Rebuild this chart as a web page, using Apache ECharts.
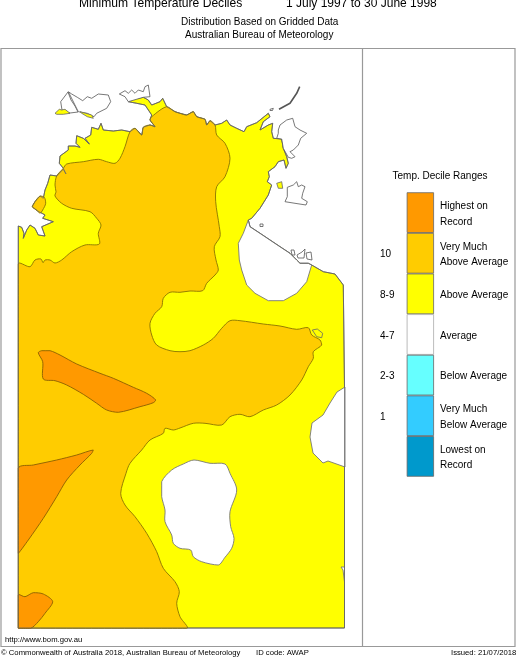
<!DOCTYPE html>
<html>
<head>
<meta charset="utf-8">
<style>html,body{margin:0;padding:0;background:#fff}#chart{width:516px;height:658px}</style>
<script src="https://cdn.jsdelivr.net/npm/echarts@6/dist/echarts.min.js"></script>
</head>
<body>
<div id="chart"></div>
<script>
// map outlines, in map units
var landOutline = [[18.3,226],[21.7,227.3],[24,233.3],[23.3,238.3],[26.7,230],[30,225],[35,228.3],[38.3,235],[45,236],[41.7,226.7],[53.3,221.7],[42.7,218.3],[45,215],[37.3,210.7],[32.3,206.7],[35,201.7],[40,196],[43.3,198.3],[45,190],[47.7,183.3],[50,175],[56.7,176],[63.3,169.3],[66,174],[63.3,168.3],[59.3,163.3],[60,156],[68.3,150],[68.3,146],[75,146],[80,147.3],[76,143.3],[76.7,135.7],[83.3,138.3],[89.3,144],[85,138.3],[90.7,135],[91.7,127.3],[98.3,129.3],[101,123.3],[103.3,130],[113.3,131],[121.7,130],[130,131.7],[135,128.3],[141.7,135],[143.3,127.3],[150,125],[155,126.7],[150,120],[151.7,115],[145,105],[136.7,103.3],[128.3,101.7],[133,99],[143.3,97.3],[148.3,100],[151.7,105],[160,101.7],[162.7,98.3],[166.7,106.7],[175,111.7],[180,113.3],[186.7,115],[193.3,111.7],[196.7,116.7],[205,119.3],[206.7,125],[210,120.7],[215,125],[221.7,123.3],[226.7,120],[230,125],[236.7,128.3],[244,131.7],[246.7,126.7],[256.7,122.7],[268.3,113.3],[270,116.7],[263.3,121.7],[260,130],[268.3,125],[272.7,123.3],[271.7,131.7],[273.3,138.3],[281.7,139],[283.3,148.3],[286.7,156.7],[288.3,163.3],[286,168.3],[284,160],[278.3,161.7],[275,166.7],[268.3,171.7],[269.3,176.7],[267.3,181.7],[271.7,185],[268.3,195],[260,208.3],[251.7,218.3],[248.3,220],[250,226.7],[260,233.3],[270,240],[280,246.7],[290,253.3],[296.7,260],[300,263.3],[308.3,263.3],[311.7,265],[323.3,271.7],[335,274],[343.3,285],[344.5,387],[344.5,628],[18.3,628]];

var aboveAvgIslands = [
    [[55,113.3],[59.3,109.3],[61.7,110],[65,109.3],[70,113.3],[63.3,114.3],[56.7,114.3]],
    [[80,111.7],[91.7,115],[93.3,118.3],[87.3,116.7],[81.7,113.3]],
    [[276.7,183.3],[281.7,181.7],[282.7,188.3],[278.3,188.3]],
    [[312.3,330],[317.3,329],[322.7,333.3],[321.7,337.7],[316.7,336.7]]
];

var veryMuchAboveMain = [[18.3,628],[18.3,264],[30,266.7],[35,260],[41,259],[43,262.7],[45,260],[50,260],[55,263],[61.7,260],[71.7,251.7],[85,245],[99.3,244],[98.3,233.3],[101,225],[96.7,218.3],[90,211.7],[71.7,208.3],[61.7,203.3],[55,196],[56,191.7],[55,185],[56.7,176],[63.3,168.3],[66.7,164],[83.3,161.7],[98.3,159.3],[106.7,161.7],[115,163.3],[120,158.3],[125,146.7],[130,131.7],[135,128.3],[141.7,135],[143.3,127.3],[150,125],[155,126.7],[150,120],[151.7,116.7],[166.7,106.7],[175,111.7],[180,113.3],[186.7,115],[193.3,111.7],[196.7,116.7],[205,119.3],[206.7,125],[210,120.7],[215,125],[216.7,135],[225,143.3],[230,158.3],[225,176.7],[216.7,186.7],[215.7,201.7],[219.3,226.7],[220,236.7],[214.3,246.7],[216,260],[218.3,270],[215,275],[206.7,283.3],[202.7,290.7],[190,291],[180,292.3],[170,292.3],[163.3,298.3],[161.7,306.7],[155,313.3],[150,323.3],[151.7,335],[156.7,345],[170,350.7],[180,351.7],[190,350.7],[203.3,345],[213.3,338.3],[221.7,328.3],[230,320.7],[240,320.7],[263.3,324],[280,326],[296.7,329.3],[308.3,327.7],[311.7,335],[320,340],[321.7,345],[313.3,351.7],[313.3,358.3],[308.3,366.7],[301.7,380],[290,395],[276.7,405],[263.3,410],[250,416.7],[240,414.3],[230,416.7],[221.7,425],[205,423.3],[193.3,423.3],[180,428],[173.3,430],[165,428.3],[163.3,433.3],[150,440],[141.7,450],[130,463.3],[126,473.3],[120.7,493.3],[125,505],[135,516.7],[146.7,533.3],[156.7,551.7],[163.3,568.3],[175,581.7],[179.3,591.7],[176.7,603.3],[180,616.7],[186.7,628.3]];
var veryMuchAboveCoast = [[32.3,206.7],[35,201.7],[40,196],[44.3,197.3],[45.7,203.3],[42.7,210],[40,213.3],[37.3,210.7]];

var highestPatches = [
    [[38.3,352.7],[41.7,350.7],[50,350.7],[60,355],[76.7,364],[100,373.3],[113.3,378.3],[133.3,387.3],[146.7,393.3],[155.7,400],[153.3,402.7],[140,406.7],[118.3,412.3],[106.7,410],[96.7,403.3],[83.3,394.3],[66.7,385],[55,380.7],[43.3,379],[42.7,361.7]],
    [[18.3,468.3],[33.3,465],[56.7,460],[76.7,455],[93.3,450],[91.7,453.3],[80,465],[66.7,480],[56.7,496.7],[43.3,518.3],[28.3,540],[18.3,553.3]],
    [[18.3,595],[25,596.7],[33.3,592.7],[43.3,594],[52.7,601.7],[45,613.3],[38.3,621.7],[30.7,628.3],[18.3,628.3]]
];

var averagePatches = [
    [[194,460],[210,463.3],[225,464],[230,473.3],[236.7,490],[230,511.7],[230.7,526.7],[234,538.3],[231.7,548.3],[225,557.3],[218.3,565],[201.7,561.7],[193.3,556.7],[190.7,550],[180,548.3],[173.3,543.3],[171.7,535],[165,521.7],[165,510],[161.7,496.7],[161.7,481.7],[171.7,470],[183.3,464]],
    [[248.3,220],[243.3,233.3],[238.3,243.3],[239.3,260],[241.7,270],[246.7,285],[255,293.3],[268.3,300.7],[283.3,300.7],[296.7,293.3],[306.7,281.7],[311.7,265],[308.3,263.3],[300,263.3],[296.7,260],[290,253.3],[280,246.7],[270,240],[260,233.3],[250,226.7]],
    [[345,387],[337,392],[330,403],[323,415],[312,423],[310,437],[313,453],[323,463],[328,461],[345,467]],
    [[341,567],[343,570],[344.5,582],[344.5,567]]
];

var averageIslands = [
    [[60.7,101.7],[68,92],[71,100],[75,106],[78,112],[70,113],[62,110]],
    [[68.3,91.7],[71.7,94],[77.3,97.3],[82.7,100.7],[87.3,96.7],[91.7,98.3],[98.3,94],[108.3,95],[110.7,101.7],[106.7,108.3],[96.7,113.3],[94,116.7],[87.3,113.3],[78.3,111.7]],
    [[119.3,94],[125,90.7],[128.3,93.3],[131.7,90],[135,93.3],[138.3,90],[143.3,91.7],[145,86.7],[148.3,85],[150,96.7],[143.3,97.3],[128.3,101.7],[125,96.7]],
    [[278.3,130],[280,125],[286.7,120],[292.7,118.3],[295,126.7],[300,130],[306.7,133.3],[300.7,138.3],[298.3,145],[293.3,150],[290,151.7],[295,156.7],[291.7,158.3],[288.3,157.3],[283.3,148.3],[281.7,139],[276.7,138.3],[278.3,133.3]],
    [[287.3,187.3],[293.3,185],[296.7,181.7],[298.3,186.7],[301.7,185],[305,186.7],[302.7,193.3],[301.7,198.3],[307.3,201.7],[306,205],[295,203.3],[285,201.7],[287.3,196.7]],
    [[270,109.3],[273.3,108.3],[272.5,110.5],[270,110.5]],
    [[260,224],[263,224],[263,226.5],[260,226.5]],
    [[291,250],[294,250],[295,255],[292,255]],
    [[297,255],[302,252],[305,249],[304,258],[298,258]],
    [[306,253],[311,252],[312,260],[307,259]]
];
var crokerArc = [[299.7,86.7],[296.7,93.3],[290,103.3],[279,109.3]];

// legend
var bandNames = ['Highest', 'VeryAbove', 'Above', 'Average', 'Below', 'VeryBelow', 'Lowest'];
var bandColors = ['#ff9900', '#ffcc00', '#ffff00', '#ffffff', '#66ffff', '#33ccff', '#0099cc'];
var bandValues = [1, 1, 1, 1, 1, 1, 1];
var decileLabels = ['', '10', '8-9', '4-7', '2-3', '1', ''];
var rangeLabels = ['Highest on\nRecord', 'Very Much\nAbove Average', 'Above Average', 'Average', 'Below Average', 'Very Much\nBelow Average', 'Lowest on\nRecord'];

var font = '"Liberation Sans", Arial, sans-serif';

function polygonSeries(points, fill, stroke, lineWidth, smooth) {
    var xs = points.map(function (p) { return p[0]; });
    var ys = points.map(function (p) { return p[1]; });
    var low = [Math.min.apply(null, xs), Math.min.apply(null, ys)];
    var high = [Math.max.apply(null, xs), Math.max.apply(null, ys)];
    return {
        type: 'custom',
        coordinateSystem: 'cartesian2d',
        xAxisIndex: 0,
        yAxisIndex: 0,
        silent: true,
        clip: false,
        data: points,
        renderItem: function (params, api) {
            if (params.dataIndex !== 0) return null;
            return {
                type: 'polygon',
                shape: {
                    points: points.map(function (p) { return api.coord(p); }),
                    smooth: smooth || 0,
                    smoothConstraint: smooth ? [api.coord(low), api.coord(high)] : null
                },
                style: { fill: fill, stroke: stroke, lineWidth: lineWidth }
            };
        }
    };
}

function lineSeries(points, color, width) {
    return {
        type: 'line',
        xAxisIndex: 0,
        yAxisIndex: 0,
        silent: true,
        showSymbol: false,
        data: points,
        lineStyle: { color: color, width: width }
    };
}

function label(text, x, y, size) {
    return {
        type: 'text',
        z: 50,
        x: x,
        y: y,
        style: { text: text, font: size + 'px ' + font, fill: '#000', textVerticalAlign: 'middle' }
    };
}

var series = [];
series.push(polygonSeries(landOutline, bandColors[2], '#555', 0.8));
series.push(polygonSeries(veryMuchAboveMain, bandColors[1], '#8a7400', 0.9, 0.3));
series.push(polygonSeries(veryMuchAboveCoast, bandColors[1], '#8a7400', 0.9, 0.3));
highestPatches.forEach(function (p) { series.push(polygonSeries(p, bandColors[0], '#8a6000', 0.9, 0.3)); });
averagePatches.forEach(function (p, i) { series.push(polygonSeries(p, bandColors[3], '#777', 0.9, i === 0 ? 0.3 : 0)); });
series.push(polygonSeries(landOutline, 'none', '#666', 0.7));
averageIslands.forEach(function (p) { series.push(polygonSeries(p, bandColors[3], '#555', 0.8)); });
aboveAvgIslands.forEach(function (p) { series.push(polygonSeries(p, bandColors[2], '#666', 0.8)); });
series.push(lineSeries(crokerArc, '#555', 1.6));

series.push({
    type: 'bar',
    xAxisIndex: 1,
    yAxisIndex: 1,
    barWidth: '100%',
    silent: true,
    data: bandValues.map(function (v, i) {
        return {
            value: v,
            itemStyle: { color: bandColors[i], borderColor: i === 3 ? '#aaa' : '#666', borderWidth: 0.8 }
        };
    })
});

var myChart = echarts.init(document.getElementById('chart'), null, { renderer: 'canvas' });
myChart.setOption({
    animation: false,
    backgroundColor: '#fff',
    grid: [
        { left: 0, top: 0, width: 516, height: 658 },
        { left: 406.7, top: 192.3, width: 27.3, height: 284.4 },
        // legend labels sit a little below the band centres
        { left: 406.7, top: 193.8, width: 27.3, height: 284.4 }
    ],
    xAxis: [
        { type: 'value', gridIndex: 0, min: 0, max: 516, show: false },
        { type: 'value', gridIndex: 1, min: 0, max: 1, show: false },
        { type: 'value', gridIndex: 2, min: 0, max: 1, show: false }
    ],
    yAxis: [
        { type: 'value', gridIndex: 0, min: 0, max: 658, inverse: true, show: false },
        { type: 'category', gridIndex: 1, inverse: true, data: bandNames, show: false },
        {
            type: 'category', gridIndex: 2, inverse: true, position: 'left', data: bandNames,
            axisLine: { show: false }, axisTick: { show: false },
            axisLabel: {
                interval: 0, margin: 26.7, align: 'left', fontFamily: font, fontSize: 10, color: '#000',
                formatter: function (v, i) { return decileLabels[i]; }
            }
        },
        {
            type: 'category', gridIndex: 2, inverse: true, position: 'right', data: bandNames,
            axisLine: { show: false }, axisTick: { show: false },
            axisLabel: {
                interval: 0, margin: 6, align: 'left', fontFamily: font, fontSize: 10, lineHeight: 15.4, color: '#000',
                formatter: function (v, i) { return rangeLabels[i]; }
            }
        }
    ],
    series: series,
    graphic: [
        { type: 'rect', silent: true, z: 50, shape: { x: 1, y: 48.5, width: 514, height: 598 }, style: { fill: null, stroke: '#999', lineWidth: 1.2 } },
        { type: 'line', silent: true, z: 50, shape: { x1: 362.5, y1: 48.5, x2: 362.5, y2: 646.5 }, style: { stroke: '#999', lineWidth: 1.2 } },
        label('Minimum Temperature Deciles', 79, 4, 12.1),
        label('1 July 1997 to 30 June 1998', 286, 4, 12),
        label('Distribution Based on Gridded Data', 181, 22, 10),
        label('Australian Bureau of Meteorology', 185, 35, 10),
        label('Temp. Decile Ranges', 392.5, 176, 10),
        label('http://www.bom.gov.au', 5, 640, 7.7),
        label('\u00a9 Commonwealth of Australia 2018, Australian Bureau of Meteorology', 1, 653, 7.7),
        label('ID code: AWAP', 256, 653, 7.7),
        label('Issued: 21/07/2018', 451, 653, 7.7)
    ]
});
</script>
</body>
</html>
